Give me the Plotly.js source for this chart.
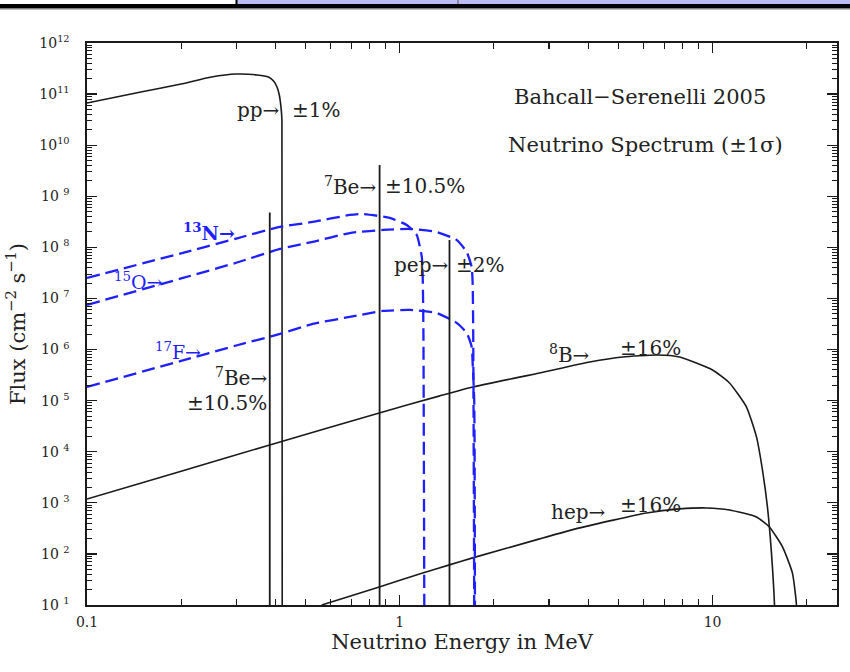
<!DOCTYPE html>
<html>
<head>
<meta charset="utf-8">
<script src="https://cdn.plot.ly/plotly-3.0.1.min.js"></script>
<style>html,body{margin:0;padding:0;background:#fff;}#chart{width:850px;height:672px;}</style>
</head>
<body>
<div id="chart"></div>
<script>
// ---- data (energy in MeV, flux in cm^-2 s^-1) ----
const ppE    = [0.1, 0.15, 0.2, 0.25, 0.3, 0.35, 0.38, 0.395, 0.405, 0.412, 0.417, 0.42, 0.421];
const ppFlux = [6.7e10, 1.11e11, 1.58e11, 2.16e11, 2.47e11, 2.37e11, 2.16e11, 1.8e11, 1.38e11, 9.6e10, 5.6e10, 3.1e10, 1];

const be7LineE   = [0.384, 0.862];
const be7LineTop = [4.8e8, 4.1e9];
const pepLineE   = [1.442];
const pepLineTop = [1.4e8];
const lineBottom = 10;

const b8E    = [0.1, 0.2, 0.384, 0.86, 1.343, 1.71, 2.80, 4.05, 5.16, 6.62, 7.85, 10, 11.33, 12.84, 13.82, 14.44, 14.98, 15.43, 15.78, 15.9];
const b8Flux = [1.19e3, 4.15e3, 1.36e4, 5.74e4, 1.24e5, 1.85e5, 3.48e5, 5.7e5, 7.16e5, 7.8e5, 7.16e5, 3.99e5, 2.22e5, 7.5e4, 1.95e4, 4.4e3, 832, 105, 10, 1];

const hepE    = [0.563, 0.86, 1.184, 1.442, 1.71, 2.80, 3.76, 6.15, 7.85, 9.57, 11.33, 13.82, 15.2, 16.74, 18.0, 18.55, 18.6];
const hepFlux = [10, 22.6, 42.5, 61, 83.6, 197, 323, 634, 760, 794, 726, 530, 337, 137, 42.5, 10, 1];

const n13E    = [0.1, 0.2, 0.3, 0.414, 0.527, 0.692, 0.762, 0.929, 1.053, 1.133, 1.176, 1.184, 1.19, 1.199];
const n13Flux = [2.52e7, 7.66e7, 1.49e8, 2.51e8, 3.14e8, 4.31e8, 4.51e8, 3.76e8, 2.74e8, 1.75e8, 6.5e7, 2.64e7, 2.4e6, 1];

const o15E    = [0.1, 0.2, 0.3, 0.414, 0.527, 0.692, 0.882, 1.077, 1.312, 1.52, 1.637, 1.698, 1.71, 1.717, 1.732];
const o15Flux = [7.5e6, 2.46e7, 5.0e7, 9.3e7, 1.28e8, 1.91e8, 2.19e8, 2.29e8, 2.0e8, 1.40e8, 8.1e7, 4.1e7, 2.0e7, 2.4e6, 1];

const f17E    = [0.1, 0.2, 0.3, 0.414, 0.527, 0.692, 0.882, 1.077, 1.312, 1.52, 1.637, 1.698, 1.71, 1.73, 1.74];
const f17Flux = [1.85e5, 6.0e5, 1.2e6, 2.02e6, 3.17e6, 4.35e6, 5.69e6, 5.96e6, 5.2e6, 3.32e6, 2.11e6, 1.12e6, 5.5e5, 1.0e5, 1];

const xTickVals = [0.1, 1, 10];
const xTickText = ['0.1', '1', '10'];
const yExponents = [1, 2, 3, 4, 5, 6, 7, 8, 9, 10, 11, 12];

// ---- build ----
const yTickVals = yExponents.map(e => Math.pow(10, e));
const yTickText = yExponents.map(e => e >= 10 ? '10<sup>' + e + '</sup>' : '10 <sup>' + e + '</sup>');
const xMinor = [], yMinor = [];
[0.1, 1, 10].forEach(d => { for (let k = 2; k <= 9; k++) xMinor.push(d * k); });
xMinor.push(20);
yExponents.slice(0, -1).forEach(e => { for (let k = 2; k <= 9; k++) yMinor.push(k * Math.pow(10, e)); });

const BLACK = '#1a1a1a', BLUE = '#1f1fff';
const FONT = 'DejaVu Serif, Liberation Serif, serif';
const solid = (x, y) => ({x, y, type: 'scatter', mode: 'lines', line: {color: BLACK, width: 1.6, shape: 'spline', smoothing: 0.5}, hoverinfo: 'skip'});
const dashed = (x, y) => ({x, y, type: 'scatter', mode: 'lines', line: {color: BLUE, width: 2.3, dash: '13px,6px', shape: 'spline', smoothing: 0.5}, hoverinfo: 'skip'});
const vline = (e, top) => ({x: [e, e], y: [lineBottom, top], type: 'scatter', mode: 'lines', line: {color: BLACK, width: 1.8}, hoverinfo: 'skip'});

const traces = [
  solid(ppE, ppFlux),
  solid(b8E, b8Flux),
  solid(hepE, hepFlux),
  dashed(n13E, n13Flux),
  dashed(o15E, o15Flux),
  dashed(f17E, f17Flux),
];
be7LineE.forEach((e, i) => traces.push(vline(e, be7LineTop[i])));
pepLineE.forEach((e, i) => traces.push(vline(e, pepLineTop[i])));

// pixel -> paper helpers for text placement
const L = 87, R = 837, T = 43, B = 605;
const px = x => (x - L) / (R - L);
const py = y => (B - y) / (B - T);
const ann = (text, x, y, xanchor, color, size) => ({
  text, x: px(x), y: py(y), xref: 'paper', yref: 'paper', xanchor, yanchor: 'middle',
  showarrow: false, font: {family: FONT, size: size || 20, color: color || '#222'}
});

const annotations = [
  ann('Bahcall\u2212Serenelli 2005', 512, 97, 'left', null, 21),
  ann('Neutrino Spectrum (\u00b11\u03c3)', 506, 145, 'left', null, 21),
  ann('pp\u2192', 282, 110, 'right'),
  ann('\u00b11%', 290, 110, 'left'),
  ann('<sup>7</sup>Be\u2192', 378, 186, 'right'),
  ann('\u00b110.5%', 383, 186, 'left'),
  ann('<b><sup>13</sup>N\u2192</b>', 181, 232, 'left', BLUE, 19),
  ann('<sup>15</sup>O\u2192', 112, 281, 'left', BLUE, 19),
  ann('pep\u2192', 450, 265, 'right'),
  ann('\u00b12%', 454, 265, 'left'),
  ann('<sup>17</sup>F\u2192', 153, 351, 'left', BLUE, 19),
  ann('<sup>7</sup>Be\u2192', 269, 377, 'right'),
  ann('\u00b110.5%', 269, 403, 'right'),
  ann('<sup>8</sup>B\u2192', 547, 354, 'left'),
  ann('\u00b116%', 618, 348, 'left'),
  ann('hep\u2192', 549, 512, 'left'),
  ann('\u00b116%', 618, 505, 'left'),
];

// slide decoration at top edge
const shapes = [
  {type: 'rect', xref: 'paper', yref: 'paper', x0: px(236), x1: px(852), y0: py(4), y1: py(-2), fillcolor: '#bcbcf6', line: {width: 0}},
  {type: 'line', xref: 'paper', yref: 'paper', x0: px(236.5), x1: px(236.5), y0: py(4), y1: py(-2), line: {color: '#000', width: 2}},
  {type: 'line', xref: 'paper', yref: 'paper', x0: px(458), x1: px(458), y0: py(4), y1: py(-2), line: {color: '#555', width: 1}},
  {type: 'rect', xref: 'paper', yref: 'paper', x0: px(-2), x1: px(852), y0: py(8.5), y1: py(4), fillcolor: '#000', line: {width: 0}},
  {type: 'line', xref: 'paper', yref: 'paper', x0: px(-2), x1: px(852), y0: py(9.5), y1: py(9.5), line: {color: '#bbb', width: 1}},
];

const axisCommon = {
  showline: true, linecolor: BLACK, linewidth: 1.6, mirror: 'ticks',
  ticks: 'inside', ticklen: 10, tickwidth: 1.3, tickcolor: BLACK,
  showgrid: false, zeroline: false, automargin: false,
  tickfont: {family: FONT, size: 14, color: '#222'},
};

const layout = {
  width: 850, height: 672,
  margin: {l: L, r: 850 - R, t: T, b: 672 - B},
  paper_bgcolor: '#fff', plot_bgcolor: '#fff',
  showlegend: false,
  xaxis: Object.assign({}, axisCommon, {
    type: 'log', range: [-1, Math.log10(25)],
    tickmode: 'array', tickvals: xTickVals, ticktext: xTickText, ticklabelstandoff: 4,
    minor: {tickmode: 'array', tickvals: xMinor, ticks: 'inside', ticklen: 6, tickwidth: 1.1, tickcolor: BLACK, showgrid: false},
    title: {text: 'Neutrino Energy in MeV', font: {family: FONT, size: 21, color: '#222'}, standoff: 3},
  }),
  yaxis: Object.assign({}, axisCommon, {
    type: 'log', range: [1, 12],
    tickmode: 'array', tickvals: yTickVals, ticktext: yTickText, ticklabelstandoff: 13,
    minor: {tickmode: 'array', tickvals: yMinor, ticks: 'inside', ticklen: 5, tickwidth: 1, tickcolor: BLACK, showgrid: false},
    title: {text: 'Flux (cm<sup>\u22122</sup> s<sup>\u22121</sup>)', font: {family: FONT, size: 21, color: '#222'}, standoff: 8},
  }),
  annotations, shapes,
};

Plotly.newPlot('chart', traces, layout, {staticPlot: true, displayModeBar: false});
</script>
</body>
</html>
